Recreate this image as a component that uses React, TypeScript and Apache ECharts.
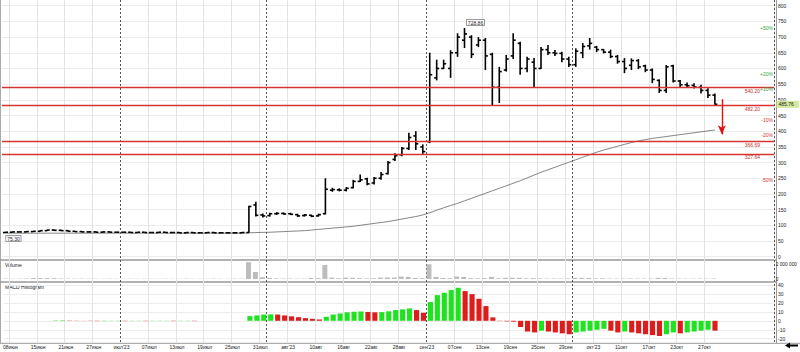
import React, { useEffect, useRef } from "react";
import * as echarts from "echarts";

// ---- trading days (categories) ----
const junDays = [7, 8, 9, 13, 14, 15, 16, 19, 20, 21, 22, 23, 26, 27, 28, 29, 30];
const julDays = [3, 4, 5, 6, 7, 10, 11, 12, 13, 14, 17, 18, 19, 20, 21, 24, 25, 26, 27, 28, 31];
const augDays = [1, 2, 3, 4, 7, 8, 9, 10, 11, 14, 15, 16, 17, 18, 21, 22, 23, 24, 25, 28, 29, 30, 31];
const sepDays = [1, 4, 5, 6, 7, 8, 11, 12, 13, 14, 15, 18, 19, 20, 21, 22, 25, 26, 27, 28, 29];
const octDays = [2, 3, 4, 5, 6, 9, 10, 11, 12, 13, 16, 17, 18, 19, 20, 23, 24, 25, 26, 27, 30];
const novDays = [1, 2, 3, 7, 8, 9, 10, 13];
const monthNames = ["июн", "июл", "авг", "сен", "окт", "ноя"];

// ---- x tick labels ----
const xTickIdx = [1, 5, 9, 13, 17, 21, 25, 29, 33, 37, 41, 45, 49, 53, 57, 61, 65, 69, 73, 77, 81, 85, 89, 93, 97, 101];
const xTickText = ["08июн", "15июн", "21июн", "27июн", "июл'23", "07июл", "13июл", "19июл", "25июл", "31июл", "авг'23", "10авг", "16авг", "22авг", "28авг", "сен'23", "07сен", "13сен", "19сен", "25сен", "29сен", "окт'23", "11окт", "17окт", "23окт", "27окт"];
const monthStartIdx = [17, 38, 61, 82];

// ---- price OHLC ----
const open = [77, 78, 79, 79, 80, 81, 83, 85, 84, 83, 81, 80, 79, 79, 78, 79, 78, 78, 78, 77, 78, 77, 77, 78, 77, 77, 76, 77, 76, 76, 77, 76, 76, 76, 76,
  77, 165, 133, 131, 137, 138, 137, 134, 131, 132, 130, 137, 212, 213, 212, 220, 240, 248, 235, 250, 265, 310, 325, 345, 385, 350, 366.69, 570, 600, 600, 650, 690, 700, 675, 690, 645, 540, 595, 640, 680, 600, 620, 600, 660, 650, 648, 630, 612, 650, 672, 668, 660, 652, 638, 622, 610, 625, 608, 595, 562, 530, 608, 560, 548, 546, 540, 530, 515];
const high = [79, 80, 80, 81, 82, 84, 86, 87, 86, 84, 82, 81, 80, 80, 80, 80, 79, 79, 79, 79, 79, 78, 79, 79, 78, 78, 78, 78, 77, 78, 78, 77, 77, 77, 78,
  162, 175, 138, 140, 142, 141, 140, 137, 136, 134, 137, 250, 220, 218, 222, 245, 262, 252, 254, 270, 305, 330, 350, 395, 400, 358, 650, 628, 628, 658, 712, 728.86, 706, 700, 697, 650, 605, 643, 712, 685, 637, 633, 668, 675, 659, 653, 637, 664, 681, 697, 672, 662, 660, 643, 633, 632, 630, 612, 600, 565, 611, 612, 563, 555, 553, 548, 537, 520];
const low = [75.3, 77, 78, 78, 79, 80, 82, 83, 82, 80, 79, 78, 78, 77, 77, 77, 77, 77, 76, 76, 77, 76, 76, 76, 76, 75.5, 75.5, 76, 75.5, 75.5, 75.5, 75.5, 75.5, 75.5, 75.5,
  76, 128, 125, 128, 133, 134, 133, 127, 128, 126, 128, 135, 207, 208, 208, 218, 238, 228, 230, 245, 262, 305, 320, 340, 340, 327.64, 362, 562, 598, 570, 637, 665, 633, 668, 595, 483, 490, 590, 630, 580, 588, 541, 598, 643, 640, 620, 605, 605, 633, 660, 652, 648, 633, 615, 585, 595, 598, 588, 553, 522, 522, 555, 538, 538, 536, 520, 506, 484];
const close = [78, 79, 79, 80, 81, 83, 85, 84, 83, 81, 80, 79, 79, 78, 79, 78, 78, 78, 77, 78, 77, 77, 78, 77, 77, 76, 77, 76, 76, 77, 76, 76, 76, 76, 77,
  160, 132, 130, 137, 138, 136, 135, 130, 133, 129, 134, 215, 214, 212, 218, 240, 245, 232, 250, 262, 300, 322, 345, 380, 360, 335, 580, 600, 615, 650, 700, 710, 645, 690, 640, 540, 590, 630, 690, 600, 630, 600, 660, 650, 648, 630, 612, 655, 670, 680, 660, 652, 638, 622, 600, 625, 605, 595, 565, 530, 605, 560, 548, 545, 541, 530, 515, 485.76];

// ---- moving average ----
const movingAvg = [75, 75, 75, 75, 75, 75, 75, 75, 75, 75, 75, 75, 75, 75, 75, 75, 75, 75, 75, 75, 75, 75, 75, 75, 75, 75, 75, 75, 75, 75, 75, 75, 75, 75, 75,
  76, 77, 77.5, 78, 79, 80, 81, 82, 83, 85, 87, 89, 91, 93, 95, 97, 100, 103, 106, 109, 112, 116, 120, 124, 128, 133, 140, 148, 156, 163, 170, 178, 186, 194, 202, 210, 218, 226, 234, 242, 251, 260, 269, 277, 285, 293, 301, 309, 317, 325, 333, 340, 346, 352, 358, 364, 369, 373, 377, 380, 383, 386, 389, 392, 395, 398, 401, 404];

// ---- volume (millions) ----
const volumeM = [0.05, 0.04, 0.05, 0.06, 0.15, 0.14, 0.13, 0.12, 0.06, 0.05, 0.04, 0.05, 0.04, 0.04, 0.03, 0.04, 0.03, 0.04, 0.03, 0.03, 0.04, 0.03, 0.03, 0.04, 0.03, 0.03, 0.04, 0.03, 0.03, 0.03, 0.04, 0.03, 0.03, 0.04, 0.05,
  2.4, 1.0, 0.25, 0.15, 0.08, 0.06, 0.06, 0.05, 0.06, 0.15, 0.12, 2.0, 0.2, 0.1, 0.2, 0.18, 0.12, 0.08, 0.1, 0.2, 0.22, 0.2, 0.35, 0.3, 0.15, 0.12, 2.1, 0.3, 0.15, 0.12, 0.35, 0.3, 0.12, 0.1, 0.12, 0.3, 0.1, 0.17, 0.18, 0.17, 0.1, 0.12, 0.08, 0.06, 0.06, 0.06, 0.08, 0.17, 0.16, 0.15, 0.08, 0.1, 0.06, 0.05, 0.06, 0.07, 0.06, 0.05, 0.06, 0.16, 0.15, 0.07, 0.05, 0.05, 0.05, 0.06, 0.05, 0.06];

// ---- MACD histogram ----
const macdHist = [0, 0, 0, 0, 0, 0, 0, 0.4, 0.5, 0.3, 0.2, 0.1,
  -0.2, -0.3, -0.3, -0.2, -0.2, -0.3, -0.2, -0.2, -0.3, -0.2, -0.2, -0.2, -0.3, -0.2, -0.2, -0.3,
  0, 0, 0, 0, 0, 0, 0,
  5.2, 6, 7, 7.2, 7.0, 6.0, 5.0, 4.0, 3.0, 2.2, 1.5, 4.5, 7, 8.2, 9.5, 10.1, 10.4, 9.9, 9.5, 9.7, 10.6, 12, 12.8, 13.8, 12, 9, 21, 28.7, 31.3, 34.3, 36.9, 33.2, 29.8, 24.6, 16.4, 3.8, -0.3, -0.6, -1, -7, -12, -13, -11, -12, -13, -14, -15, -13, -12, -11, -10, -9, -11, -13, -12, -13, -14, -15, -16, -17, -15, -13, -14, -13, -12, -11, -10, -11];

// ---- levels / labels ----
const levelValues = [540.2, 482.2, 366.69, 327.64];
const levelLabels = ["540.20", "482.20", "366.69", "327.64"];
const pctValues = [728.64, 582.91, 534.34, 437.18, 388.61, 242.88];
const pctLabels = ["+50%", "+20%", "+10%", "-10%", "-20%", "-50%"];
const lastPrice = 485.76;
const highLabel = { idx: 66, value: 728.86, text: "728.86" };
const lowLabel = { idx: 1, value: 75.3, text: "75.30" };
const arrowIdx = 103;
const arrowFrom = 502;
const arrowTo = 390;

const FONT = "Liberation Sans, Arial, sans-serif";
const RED = "#d83434";

export default function App() {
  const ref = useRef<HTMLDivElement>(null);
  useEffect(() => {
    if (!ref.current) return;
    const chart = echarts.init(ref.current, undefined, { renderer: "svg" });

    const categories: string[] = [];
    [junDays, julDays, augDays, sepDays, octDays, novDays].forEach((days, m) =>
      days.forEach((d) => categories.push(String(d).padStart(2, "0") + monthNames[m]))
    );
    const tickSet = new Set(xTickIdx);
    const monthSet = new Set(monthStartIdx);
    const tickTextMap: Record<number, string> = {};
    xTickIdx.forEach((i, k) => (tickTextMap[i] = xTickText[k]));

    const ohlc = open.map((o, i) => [i, o, high[i], low[i], close[i]]);
    const macdData = macdHist.map((v, i) => ({
      value: v,
      itemStyle: { color: i === 0 || v >= macdHist[i - 1] ? "#1fe31f" : "#de1c1c" },
    }));

    const gl = 2, gw = 772;
    const small = { fontSize: 5, color: "#222", fontFamily: FONT };

    const baseX = (gridIndex: number, extra: any = {}) => ({
      type: "category",
      gridIndex,
      data: categories,
      boundaryGap: true,
      axisLine: { show: false },
      axisTick: { show: false },
      axisLabel: { show: false },
      splitLine: { show: false },
      ...extra,
    });

    const option: any = {
      animation: false,
      backgroundColor: "#ffffff",
      textStyle: { fontFamily: FONT },
      color: [RED],
      grid: [
        { left: gl, width: gw, top: 5.7, height: 251 },
        { left: gl, width: gw, top: 260, height: 19 },
        { left: gl, width: gw, top: 285, height: 53.7 },
        { left: gl, width: gw, top: 0, height: 343 },
      ],
      xAxis: [
        baseX(0),
        baseX(1),
        baseX(2, {
          axisLabel: {
            show: true,
            interval: (i: number) => tickSet.has(i),
            formatter: (_v: string, i: number) => tickTextMap[i] || "",
            ...small,
            margin: 6,
            padding: [0, 7, 0, 0],
          },
        }),
        baseX(3, {
          splitLine: {
            show: true,
            interval: (i: number) => tickSet.has(i) && !monthSet.has(i),
            lineStyle: { color: "#e2e2e2", width: 1 },
          },
        }),
        baseX(3, {
          splitLine: {
            show: true,
            interval: (i: number) => monthSet.has(i),
            lineStyle: { color: "#555", width: 1, type: [2, 2] },
          },
        }),
      ],
      yAxis: [
        {
          type: "value", gridIndex: 0, position: "right", offset: 2,
          min: 0, max: 800, interval: 50,
          axisLine: { show: false }, axisTick: { show: false },
          axisLabel: { ...small, margin: 2 },
          splitLine: { lineStyle: { color: "#ececec", width: 1 } },
        },
        {
          type: "value", gridIndex: 1, position: "right", offset: 2,
          min: 0, max: 2.714, interval: 1,
          axisLine: { show: false }, axisTick: { show: false },
          axisLabel: {
            ...small, fontSize: 4.8, margin: 1, showMaxLabel: false,
            formatter: (v: number) => (v === 0 ? "0" : v === 2 ? "2 000 000" : ""),
          },
          splitLine: { show: false },
        },
        {
          type: "value", gridIndex: 2, position: "right", offset: 2,
          min: -20, max: 40, interval: 10,
          axisLine: { show: false }, axisTick: { show: false },
          axisLabel: { ...small, margin: 2 },
          splitLine: { lineStyle: { color: "#ececec", width: 1 } },
        },
        {
          type: "value", gridIndex: 3, position: "right", offset: 2, min: 0, max: 1,
          axisLine: { show: true, lineStyle: { color: "#999", width: 1 } },
          axisTick: { show: false }, axisLabel: { show: false }, splitLine: { show: false },
        },
      ],
      series: [
        { type: "line", xAxisIndex: 3, yAxisIndex: 3, data: [], silent: true },
        { type: "line", xAxisIndex: 4, yAxisIndex: 3, data: [], silent: true },
        {
          type: "line",
          xAxisIndex: 0, yAxisIndex: 0,
          data: movingAvg,
          symbol: "none",
          lineStyle: { color: "#666", width: 0.8 },
          itemStyle: { color: "#666" },
          silent: true,
          z: 3,
          markPoint: {
            silent: true,
            symbol: "circle",
            symbolSize: 0,
            data: [
              ...pctValues.map((v, k) => ({
                coord: [110, v],
                label: {
                  show: true, formatter: pctLabels[k], position: "left", offset: [7.5, 0],
                  color: k < 3 ? "#3da33d" : "#cc3b3b", fontSize: 5, fontFamily: FONT,
                },
              })),
              {
                coord: [110, lastPrice],
                label: {
                  show: true, formatter: "485.76", position: "right", offset: [1, 0],
                  backgroundColor: "#d5e99c", color: "#222", fontSize: 5, fontFamily: FONT,
                  padding: [1, 5, 1, 2],
                },
              },
              {
                coord: [highLabel.idx, highLabel.value],
                label: {
                  show: true, formatter: highLabel.text, position: "top", offset: [11, 2],
                  color: "#222", fontSize: 5, fontFamily: FONT,
                  backgroundColor: "#fff", borderColor: "#777", borderWidth: 0.7, padding: [0, 1],
                },
              },
              {
                coord: [lowLabel.idx, lowLabel.value],
                label: {
                  show: true, formatter: lowLabel.text, position: "bottom", offset: [1, -2],
                  color: "#222", fontSize: 5, fontFamily: FONT,
                  backgroundColor: "#fff", borderColor: "#777", borderWidth: 0.7, padding: [0, 1],
                },
              },
            ],
          },
        },
        {
          type: "custom",
          xAxisIndex: 0, yAxisIndex: 0,
          data: ohlc,
          encode: { x: 0, y: [1, 2, 3, 4] },
          z: 4,
          silent: true,
          itemStyle: { color: RED },
          renderItem: (_p: any, api: any) => {
            const i = api.value(0);
            const o = api.coord([i, api.value(1)]);
            const h = api.coord([i, api.value(2)]);
            const l = api.coord([i, api.value(3)]);
            const c = api.coord([i, api.value(4)]);
            const x = o[0];
            const half = api.size([1, 0])[0] * 0.36;
            const st = { stroke: "#000", lineWidth: 1.6 };
            return {
              type: "group",
              children: [
                { type: "line", shape: { x1: x, y1: h[1], x2: x, y2: l[1] }, style: st },
                { type: "line", shape: { x1: x - half, y1: o[1], x2: x, y2: o[1] }, style: st },
                { type: "line", shape: { x1: x, y1: c[1], x2: x + half, y2: c[1] }, style: st },
              ],
            };
          },
          markLine: {
            silent: true,
            symbol: ["none", "none"],
            lineStyle: { color: RED, width: 1.3, type: "solid", opacity: 1 },
            data: [
              ...levelValues.map((v, k) => ({
                yAxis: v,
                lineStyle: { color: RED, width: 1.3, type: "solid", opacity: 1 },
                label: {
                  show: true, formatter: levelLabels[k], position: "insideEndBottom",
                  color: "#c23333", fontSize: 5, fontFamily: FONT, distance: [14, 1],
                },
              })),
              [
                {
                  coord: [arrowIdx, arrowFrom], symbol: "none",
                  lineStyle: { color: "#e01010", width: 1.4, type: "solid" },
                  label: { show: false },
                },
                {
                  coord: [arrowIdx, arrowTo], symbol: "arrow", symbolSize: [6, 9],
                  lineStyle: { color: "#e01010", width: 1.4, type: "solid" },
                  label: { show: false },
                },
              ],
            ],
          },
        },
        {
          type: "bar",
          xAxisIndex: 1, yAxisIndex: 1,
          data: volumeM,
          barWidth: "72%",
          itemStyle: { color: "#bdbdbd" },
          silent: true,
        },
        {
          type: "bar",
          xAxisIndex: 2, yAxisIndex: 2,
          data: macdData,
          barWidth: "74%",
          silent: true,
        },
      ],
      graphic: [
        { type: "line", shape: { x1: 0.5, y1: 0, x2: 0.5, y2: 343 }, style: { stroke: "#aaa", lineWidth: 1 } },
        { type: "line", shape: { x1: 0, y1: 260, x2: 776, y2: 260 }, style: { stroke: "#999", lineWidth: 1.4 } },
        { type: "line", shape: { x1: 0, y1: 282, x2: 776, y2: 282 }, style: { stroke: "#999", lineWidth: 1.4 } },
        { type: "line", shape: { x1: 0, y1: 343.3, x2: 800, y2: 343.3 }, style: { stroke: "#999", lineWidth: 1 } },
        { type: "text", x: 5, y: 262, style: { text: "Volume", fontSize: 5, fill: "#222", fontFamily: FONT } },
        { type: "text", x: 5, y: 284, style: { text: "MACD Histogram", fontSize: 5, fill: "#222", fontFamily: FONT } },
        {
          type: "polygon",
          shape: { points: [[785, 345.5], [790, 342.5], [790, 344.5], [798, 344.5], [798, 346.5], [790, 346.5], [790, 348.5]] },
          style: { fill: "#000" },
        },
      ],
    };
    chart.setOption(option);
    return () => chart.dispose();
  }, []);
  return (
    <div
      ref={ref}
      style={{ position: "absolute", left: 0, top: 0, width: 800, height: 352, background: "#fff" }}
    />
  );
}
